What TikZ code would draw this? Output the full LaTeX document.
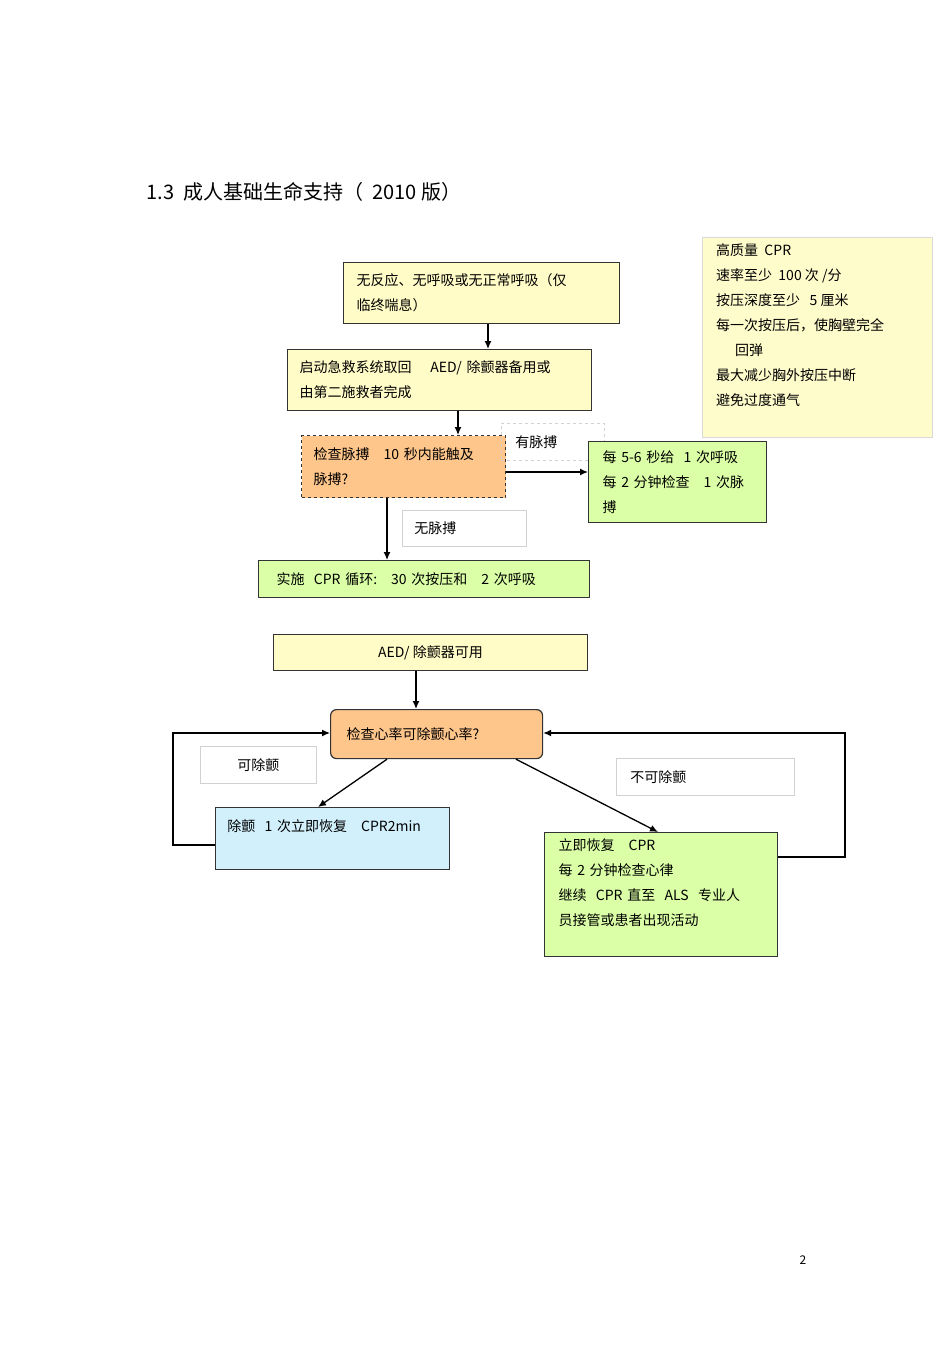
\documentclass[tikz,border=0pt]{standalone}
\usepackage{fontspec}
\usetikzlibrary{arrows.meta}
\setmainfont{Noto Sans CJK SC}
\begin{document}
\begin{tikzpicture}[x=1pt,y=-1pt,
  box/.style={draw=black!80,line width=1.2pt,anchor=north west,inner sep=0pt,align=left,
    font=\fontsize{14}{25}\selectfont},
  lbl/.style={draw=black!18,line width=0.6pt,anchor=north west,inner sep=0pt,font=\fontsize{14}{25}\selectfont},
  arr/.style={line width=1.3pt,-{Latex[length=8pt,width=7pt]}},
  ln/.style={line width=1.3pt}]
\useasboundingbox[fill=white] (0,0) rectangle (950,1345);
\node[anchor=west,font=\fontsize{20}{24}\selectfont] (title) at (143,192) {1.3\ \ 成人基础生命支持（\ \ 2010 版）};
\node[font=\fontsize{12}{14}\selectfont] (pg) at (803,1260) {2};
% sidebar
\node[draw=black!15,fill=yellow!20,anchor=north west,minimum width=230,minimum height=200,inner sep=0pt] (side) at (702,237) {};
\node[anchor=north west,align=left,inner sep=0pt,font=\fontsize{14}{25}\selectfont] (sidet) at (716,243)
 {高质量\ \ CPR\\速率至少\ \ 100 次 /分\\按压深度至少\ \ \ 5 厘米\\每一次按压后，使胸壁完全\\\hspace*{19pt}回弹\\最大减少胸外按压中断\\避免过度通气};
% boxes
\node[box,fill=yellow!22,minimum width=273,minimum height=61,text width=250,inner xsep=13pt] (b1) at (343,262) {无反应、无呼吸或无正常呼吸（仅\\临终喘息）};
\node[box,fill=yellow!22,minimum width=300,minimum height=61,text width=280,inner xsep=12pt] (b2) at (287,349) {启动急救系统取回\ \ \ \ AED/ 除颤器备用或\\由第二施救者完成};
\node[box,dashed,fill=orange!45,minimum width=200,minimum height=62,text width=180,inner xsep=12pt] (b3) at (301,435) {检查脉搏\ \ \ 10 秒内能触及\\脉搏?};
\node[lbl,dashed,minimum width=87,minimum height=37,text width=75,inner xsep=14pt] (l1) at (501,423) {有脉搏};
\node[box,fill=green!40!yellow!35,minimum width=171,minimum height=81,text width=150,inner xsep=14pt] (b4) at (588,441) {每 5-6 秒给\ \ 1 次呼吸\\每 2 分钟检查\ \ \ 1 次脉\\搏};
\node[lbl,minimum width=114,minimum height=36,text width=100,inner xsep=12pt] (l2) at (402,510) {无脉搏};
\node[box,fill=green!40!yellow!35,minimum width=315,minimum height=37,text width=295,inner xsep=18pt] (b5) at (258,560) {实施\ \ CPR 循环:\ \ \ 30 次按压和\ \ \ 2 次呼吸};
\node[box,line width=0.8pt,fill=yellow!22,minimum width=314,minimum height=36] (b6) at (273,634) {AED/ 除颤器可用};
\node[box,rounded corners=6pt,fill=orange!45,minimum width=200,minimum height=49,text width=180,inner xsep=16pt] (b7) at (330,709) {检查心率可除颤心率?};
\node[lbl,minimum width=116,minimum height=37] (l3) at (200,746) {可除颤};
\node[box,line width=0.8pt,fill=cyan!18,minimum width=229,minimum height=62,text width=210,inner xsep=12pt,anchor=north west] (b8) at (215,807) {除颤\ \ 1 次立即恢复\ \ \ CPR2min\\ \ };
\node[lbl,minimum width=172,minimum height=37,text width=150,inner xsep=14pt] (l4) at (616,758) {不可除颤};
\node[box,fill=green!40!yellow!35,minimum width=229,minimum height=124,text width=205,inner xsep=14pt] (b9) at (544,832) {立即恢复\ \ \ CPR\\每 2 分钟检查心律\\继续\ \ CPR\ 直至\ \ ALS\ \ 专业人\\员接管或患者出现活动\\ \ };
% connectors
\draw[arr] (b1.south -| 488,0) -- (b2.north -| 488,0);
\draw[arr] (b2.south -| 458,0) -- (b3.north -| 458,0);
\draw[arr] (b3.east |- 0,472) -- (b4.west |- 0,472);
\draw[arr] (b3.south -| 387,0) -- (b5.north -| 387,0);
\draw[arr] (b6.south -| 416,0) -- (b7.north -| 416,0);
\draw[arr] (b7.south -| 387,0) -- (b8.north -| 318,0);
\draw[arr] (b7.south -| 516,0) -- (b9.north -| 658,0);
\draw[arr] (b8.west |- 0,845) -| (173,733) -- (b7.west |- 0,733);
\draw[arr] (b9.east |- 0,857) -| (845,733) -- (b7.east |- 0,733);
\end{tikzpicture}
\end{document}
